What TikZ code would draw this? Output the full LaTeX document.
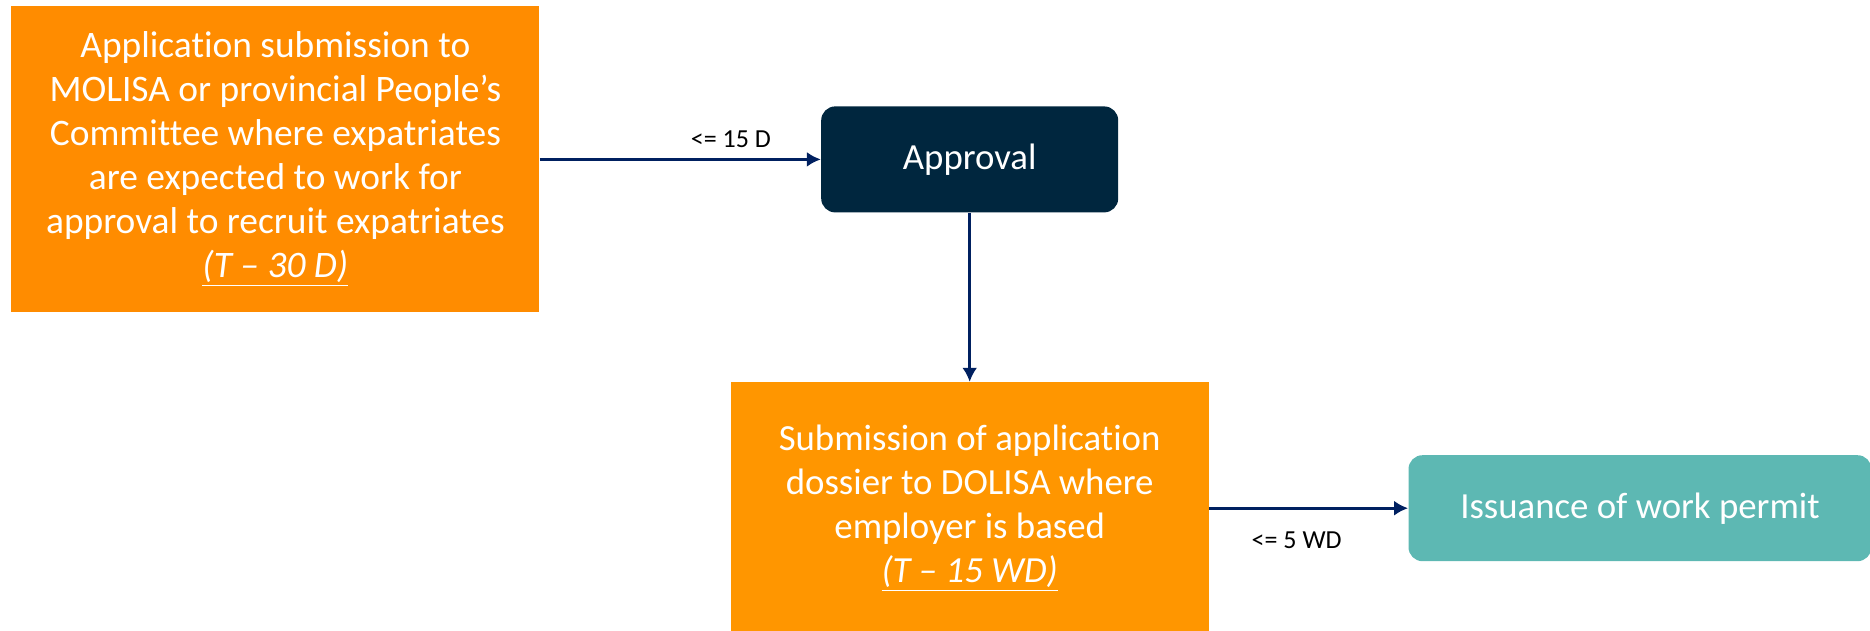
\documentclass[tikz,border=0pt]{standalone}
\usepackage{fontspec}
\setmainfont{Carlito}[Ligatures={NoCommon}]
\usepackage{xcolor}
\usepackage{tikz}
\usetikzlibrary{arrows, arrows.meta, positioning}

\definecolor{stepOrange}{HTML}{FF8C00}
\definecolor{dossierOrange}{HTML}{FF9600}
\definecolor{approvalNavy}{HTML}{00263E}
\definecolor{permitTeal}{HTML}{5DB8B3}
\definecolor{arrowNavy}{HTML}{002060}

\begin{document}
\begin{tikzpicture}[
    stepbox/.style={rectangle, fill=stepOrange, text=white, align=center, inner sep=0pt, font=\fontsize{18.7}{22}\selectfont},
    roundbox/.style={rectangle, rounded corners=7pt, text=white, align=center, inner sep=0pt, minimum height=53pt, font=\fontsize{18.4}{22}\selectfont},
    arrow/.style={line width=1.3pt, arrowNavy, ->, >={Latex[length=7pt,width=7.5pt]}},
    lbl/.style={font=\fontsize{13}{15}\selectfont, text=black}
]
    \useasboundingbox (0,0) rectangle (935pt,-315.5pt);

    \node [stepbox, minimum width=264pt, minimum height=153pt, anchor=north west] (submission) at (5.5pt,-3pt)
        {Application submission to\\MOLISA or provincial People’s\\Committee where expatriates\\are expected to work for\\approval to recruit expatriates\\\underline{\textit{(T – 30 D)}}};

    \node [roundbox, fill=approvalNavy, minimum width=148.5pt, right=140.5pt of submission] (approval) {Approval};

    \node [stepbox, fill=dossierOrange, minimum width=239pt, minimum height=126pt, below=84.5pt of approval, font=\fontsize{18.4}{22}\selectfont] (dossier)
        {Submission of application\\dossier to DOLISA where\\employer is based\\\underline{\textit{(T – 15 WD)}}};

    \node [roundbox, fill=permitTeal, minimum width=231.5pt, right=99.5pt of dossier] (permit) {Issuance of work permit};

    \draw [arrow] (submission) -- (approval) node[lbl, pos=0.68, above=2pt] {<= 15 D};
    \draw [arrow] (approval) -- (dossier);
    \draw [arrow] (dossier) -- (permit) node[lbl, pos=0.44, below=8pt] {<= 5 WD};
\end{tikzpicture}
\end{document}
